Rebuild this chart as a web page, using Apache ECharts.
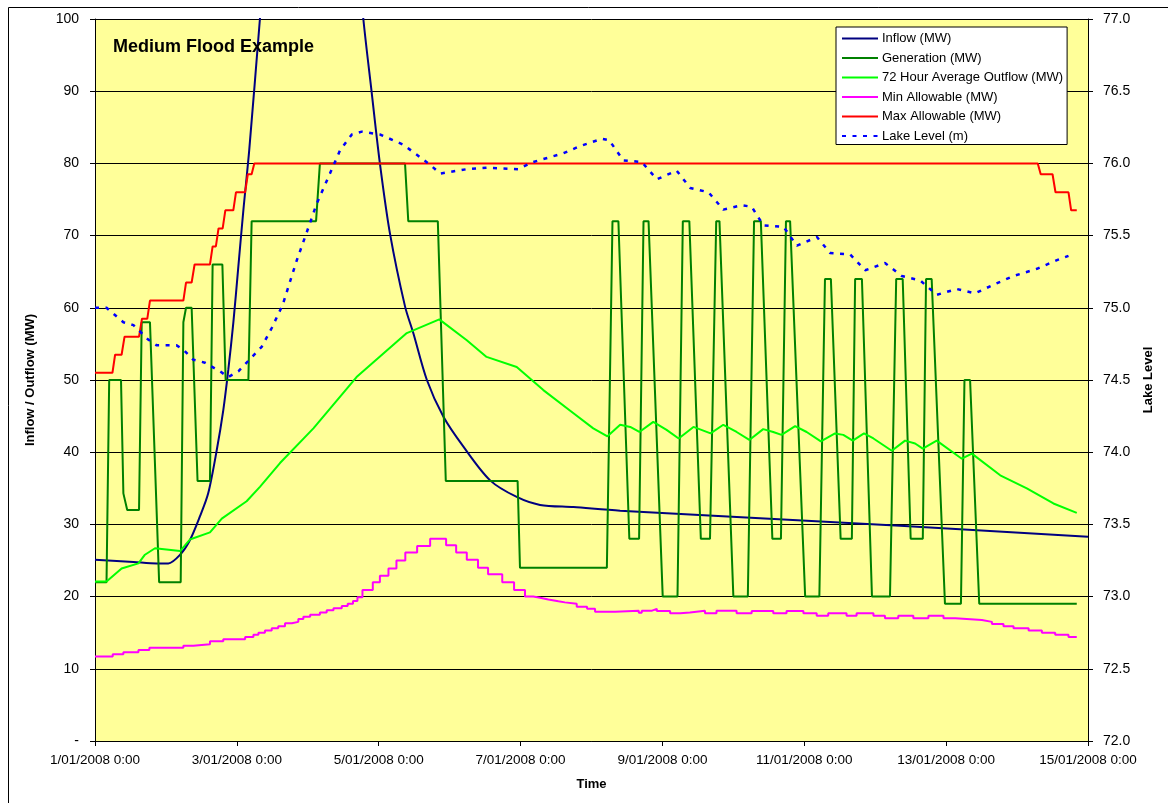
<!DOCTYPE html>
<html>
<head>
<meta charset="utf-8">
<title>Medium Flood Example</title>
<script src="https://cdn.jsdelivr.net/npm/echarts@6/dist/echarts.min.js"></script>
<style>
  html, body { margin: 0; padding: 0; background: #ffffff; }
  #chart { width: 1168px; height: 803px; }
</style>
</head>
<body>
<div id="chart"></div>
<script>
// Time is measured in hours from 1/01/2008 0:00; each entry is [hour, value].
const startDay = 1;
const hoursPerTick = 48;
const xMaxHours = 336;

// Inflow (MW)
const inflow = [
  [0, 25.1], [13, 24.8], [20.9, 24.6], [24.8, 24.6], [28.8, 25.8], [32.1, 27.8],
  [35.5, 31.1], [38.3, 34.3], [41.2, 40.3], [43.4, 45.8], [45.1, 51.4], [46.8, 57.9],
  [48.5, 65.7], [50.2, 73.5], [52.2, 81.9], [55.8, 100], [58, 111], [62, 128],
  [67, 142], [73, 148], [79, 143], [84, 130], [88, 113], [90.8, 100], [93.6, 89.9],
  [96.4, 80.0], [99.8, 70.3], [104.9, 60.2], [107.7, 56.5], [112.3, 50.0],
  [117.9, 44.9], [124.6, 40.8], [133.7, 36.1], [142.7, 33.8], [150.6, 32.7],
  [161.9, 32.4], [177.7, 31.9], [272.4, 29.8], [336, 28.3]
];

// Generation (MW)
const generation = [
  [0, 22], [3.9, 22], [4.8, 50], [8.8, 50], [9.6, 34.3], [10.9, 32], [14.9, 32],
  [15.8, 58], [18.6, 58], [21.7, 22], [29, 22], [29.9, 58], [30.8, 60], [32.7, 60],
  [34.7, 36], [38.9, 36], [39.8, 66], [43.1, 66], [44.2, 50], [51.9, 50], [53, 72],
  [74.8, 72], [76.1, 80], [104.9, 80], [106, 72], [116, 72], [118.7, 36], [143, 36],
  [143.8, 24], [173.2, 24], [175.1, 72], [177.1, 72], [180.8, 28], [184.1, 28],
  [185.6, 72], [187.3, 72], [192.1, 20], [197.1, 20], [198.9, 72], [201.1, 72],
  [205, 28], [208.1, 28], [210.2, 72], [211.3, 72], [216, 20], [220.9, 20],
  [223, 72], [225.3, 72], [229.2, 28], [232.1, 28], [233.8, 72], [235.2, 72],
  [240.3, 20], [245.1, 20], [247, 64], [249, 64], [252.3, 28], [256.1, 28],
  [257.2, 64], [259.5, 64], [262.9, 20], [269, 20], [271.1, 64], [273.3, 64],
  [276, 28], [280.1, 28], [281.2, 64], [283.1, 64], [287.6, 19], [293, 19],
  [294.2, 50], [296.1, 50], [299.2, 19], [332.2, 19]
];

// 72 Hour Average Outflow (MW)
const avgOutflow = [
  [0, 22.1], [3.9, 22.1], [9, 23.9], [14.7, 24.6], [16.9, 25.8], [20.3, 26.7],
  [28.8, 26.3], [32.1, 27.9], [38.9, 28.9], [42.9, 30.8], [51.3, 33.2], [55.8, 35.2],
  [62.6, 38.5], [73.9, 43.3], [88.5, 50.4], [105.5, 56.5], [116.5, 58.4],
  [125.8, 55.5], [132.5, 53.2], [142.7, 51.8], [151.7, 48.6], [161.9, 45.4],
  [168.6, 43.3], [173.4, 42.2], [177.7, 43.8], [181.1, 43.5], [184.2, 42.8],
  [188.9, 44.2], [193.4, 43.1], [197.5, 41.9], [202.5, 43.5], [208.3, 42.6],
  [212.6, 43.8], [217.1, 42.8], [221.4, 41.7], [226.1, 43.2], [229.5, 42.8],
  [232.3, 42.4], [236.9, 43.6], [240.8, 42.8], [245.6, 41.5], [250.4, 42.6],
  [253.2, 42.4], [256.4, 41.6], [260.2, 42.6], [263.4, 41.9], [269.6, 40.2],
  [274.1, 41.6], [277.5, 41.2], [280.1, 40.5], [284.8, 41.6], [293.3, 39.1],
  [296.7, 39.8], [306.3, 36.8], [315.3, 35.0], [324.3, 32.9], [332.2, 31.6]
];

// Min Allowable (MW): each level holds from its hour until the next entry
const minAllowable = [
  [0, 11.7], [6, 12.0], [9.6, 12.3], [14.7, 12.6], [18.4, 12.9], [29.9, 13.2],
  [33.3, 13.4], [38.9, 13.8], [43.4, 14.1], [50.8, 14.4], [53.6, 14.7], [55.3, 15.0],
  [57.5, 15.3], [59.8, 15.6], [62, 15.9], [64.3, 16.3], [66.6, 16.5], [68.8, 16.9],
  [70.5, 17.2], [72.8, 17.5], [76.1, 17.8], [78.4, 18.1], [80.7, 18.4], [83.5, 18.7],
  [85.5, 19.0], [87.3, 19.4], [88.8, 19.9], [90.5, 20.9], [94, 22.0], [96.4, 22.9],
  [99.3, 23.9], [102, 25.0], [105, 26.1], [109, 27.0], [113.4, 28.0], [118.8, 27.1],
  [122.2, 26.1], [125.8, 25.1], [129.6, 24.0], [133, 23.1], [137.8, 22.0],
  [141.8, 20.9], [145.5, 20.0], [148.3, 19.85], [150.6, 19.6], [153.4, 19.35],
  [156.8, 19.2], [159, 19.0], [163, 18.6], [166.5, 18.3], [169.2, 17.9], [176, 18.05],
  [184, 17.75], [185, 18.05], [188.5, 18.3], [190.1, 18.0], [194.6, 17.7],
  [198, 17.8], [201.3, 18.05], [206.4, 17.7], [210.3, 18.05], [217.1, 17.7],
  [222.2, 18.0], [229.5, 17.7], [234, 18.0], [239.7, 17.7], [244.2, 17.35],
  [248.1, 17.7], [254.3, 17.35], [257.7, 17.7], [263.4, 17.35], [267.3, 17.0],
  [271.8, 17.35], [276.9, 17.0], [282, 17.35], [287.1, 17.0], [291.1, 16.75],
  [300.1, 16.5], [303.5, 16.2], [307.4, 15.9], [310.8, 15.6], [315.9, 15.3],
  [320.4, 15.0], [324.9, 14.7], [329.4, 14.4], [332.2, 14.4]
];

// Max Allowable (MW)
const maxAllowable = [
  [0, 51], [5.9, 51], [6.8, 53.5], [9, 53.5], [10, 56], [14.9, 56], [15.9, 58.5],
  [17.7, 58.5], [18.6, 61], [29.9, 61], [30.8, 63.5], [32.7, 63.5], [33.7, 66],
  [38.9, 66], [39.8, 68.5], [40.9, 68.5], [41.8, 71], [43.2, 71], [44.1, 73.5],
  [46.8, 73.5], [47.7, 76], [50.8, 76], [51.7, 78.5], [53, 78.5], [53.9, 80],
  [319, 80], [320, 78.5], [324, 78.5], [325, 76], [329.4, 76], [330.3, 73.5],
  [332.2, 73.5]
];

// Lake Level (m)
const lakeLevel = [
  [0, 75.0], [3.9, 75.0], [9.6, 74.9], [13, 74.88], [18, 74.78], [20.9, 74.74],
  [27.6, 74.74], [29.9, 74.71], [33.3, 74.64], [37.2, 74.62], [42.3, 74.56],
  [45.1, 74.52], [48.5, 74.56], [51.3, 74.62], [56.4, 74.73], [59.8, 74.86],
  [63.5, 75.02], [68.3, 75.33], [71.6, 75.52], [75, 75.72], [79.5, 75.93],
  [82.9, 76.09], [86.9, 76.2], [90.3, 76.22], [96.4, 76.2], [104.3, 76.13],
  [108.9, 76.06], [113.4, 75.99], [116.8, 75.93], [125.8, 75.96], [132.5, 75.97],
  [143.2, 75.96], [148.3, 76.01], [158.5, 76.07], [164.1, 76.12], [171.5, 76.17],
  [174, 76.16], [178.8, 76.02], [185, 76.01], [190.1, 75.89], [196.8, 75.95],
  [201.4, 75.83], [207.6, 75.8], [212.6, 75.68], [218.8, 75.71], [222.2, 75.7],
  [226.2, 75.57], [233, 75.56], [237.5, 75.43], [244.3, 75.49], [248.7, 75.38],
  [255.5, 75.37], [260.6, 75.26], [267.3, 75.31], [273, 75.22], [279.2, 75.19],
  [284.8, 75.09], [291.6, 75.13], [297.8, 75.1], [304, 75.16], [310.8, 75.22],
  [318.7, 75.27], [325.5, 75.33], [329.4, 75.36]
];

const seriesNames = [
  'Inflow (MW)', 'Generation (MW)', '72 Hour Average Outflow (MW)',
  'Min Allowable (MW)', 'Max Allowable (MW)', 'Lake Level (m)'
];

const FONT = "'Liberation Sans', Arial, sans-serif";

const chart = echarts.init(document.getElementById('chart'), null, { renderer: 'canvas' });

function lineSeries(name, data, color, width, extra) {
  return Object.assign({
    name: name,
    type: 'line',
    data: data,
    symbol: 'none',
    showSymbol: false,
    clip: true,
    lineStyle: { color: color, width: width },
    itemStyle: { color: color },
    emphasis: { disabled: true }
  }, extra || {});
}

chart.setOption({
  animation: false,
  backgroundColor: '#ffffff',
  textStyle: { fontFamily: FONT },
  title: {
    text: 'Medium Flood Example',
    left: 108,
    top: 33,
    textStyle: { fontFamily: FONT, fontSize: 18, fontWeight: 'bold', color: '#000' }
  },
  graphic: [{
    type: 'rect',
    shape: { x: 8.5, y: 7.5, width: 1170, height: 810 },
    style: { fill: 'none', stroke: '#000', lineWidth: 1 },
    silent: true,
    z: -1
  }],
  legend: {
    data: seriesNames,
    orient: 'vertical',
    left: 836,
    top: 27,
    padding: [5, 4, 2, 5],
    itemWidth: 36,
    itemHeight: 14,
    itemGap: 6.5,
    backgroundColor: '#ffffff',
    borderColor: '#000000',
    borderWidth: 1,
    borderRadius: 0,
    selectedMode: false,
    // legend keys show only the line sample, no marker
    itemStyle: { opacity: 0, borderWidth: 0 },
    textStyle: { fontFamily: FONT, fontSize: 13, color: '#000', padding: [0, 0, 0, -1] }
  },
  grid: {
    left: 95,
    right: 80,
    top: 19,
    bottom: 62,
    show: true,
    backgroundColor: '#FFFF99',
    borderWidth: 0
  },
  xAxis: {
    type: 'value',
    min: 0,
    max: xMaxHours,
    interval: hoursPerTick,
    name: 'Time',
    nameLocation: 'middle',
    nameGap: 37,
    nameTextStyle: { fontFamily: FONT, fontSize: 13, fontWeight: 'bold', color: '#000' },
    axisLine: { show: true, onZero: false, lineStyle: { color: '#000', width: 1 } },
    axisTick: { show: true, inside: false, length: 5, lineStyle: { color: '#000' } },
    splitLine: { show: false },
    axisLabel: {
      margin: 12,
      fontFamily: FONT,
      fontSize: 13.5,
      color: '#000',
      showMinLabel: true,
      showMaxLabel: true,
      hideOverlap: false,
      formatter: function (v) { return (startDay + v / 24) + '/01/2008 0:00'; }
    }
  },
  yAxis: [{
    type: 'value',
    min: 0,
    max: 100,
    interval: 10,
    position: 'left',
    name: 'Inflow / Outflow (MW)',
    nameLocation: 'middle',
    nameGap: 58,
    nameTextStyle: { fontFamily: FONT, fontSize: 13, fontWeight: 'bold', color: '#000' },
    axisLine: { show: true, lineStyle: { color: '#000', width: 1 } },
    axisTick: { show: true, inside: false, length: 5, lineStyle: { color: '#000' } },
    splitLine: { show: true, lineStyle: { color: '#000', width: 1 } },
    axisLabel: {
      margin: 16,
      fontFamily: FONT,
      fontSize: 14,
      color: '#000',
      formatter: function (v) { return v === 0 ? '-' : String(v); }
    }
  }, {
    type: 'value',
    min: 72,
    max: 77,
    interval: 0.5,
    position: 'right',
    name: 'Lake Level',
    nameLocation: 'middle',
    nameGap: 54,
    nameTextStyle: { fontFamily: FONT, fontSize: 13, fontWeight: 'bold', color: '#000' },
    axisLine: { show: true, lineStyle: { color: '#000', width: 1 } },
    axisTick: { show: true, inside: false, length: 5, lineStyle: { color: '#000' } },
    splitLine: { show: false },
    axisLabel: {
      margin: 15,
      fontFamily: FONT,
      fontSize: 14,
      color: '#000',
      formatter: function (v) { return v.toFixed(1); }
    }
  }],
  series: [
    lineSeries(seriesNames[0], inflow, '#000080', 2, { smooth: 0.3 }),
    lineSeries(seriesNames[1], generation, '#008000', 2),
    lineSeries(seriesNames[2], avgOutflow, '#00FF00', 2),
    lineSeries(seriesNames[3], minAllowable, '#FF00FF', 2, { step: 'end' }),
    lineSeries(seriesNames[4], maxAllowable, '#FF0000', 2),
    lineSeries(seriesNames[5], lakeLevel, '#0000FF', 2.5, {
      yAxisIndex: 1,
      lineStyle: { color: '#0000FF', width: 2.5, type: [4, 6.5] }
    })
  ]
});
</script>
</body>
</html>
